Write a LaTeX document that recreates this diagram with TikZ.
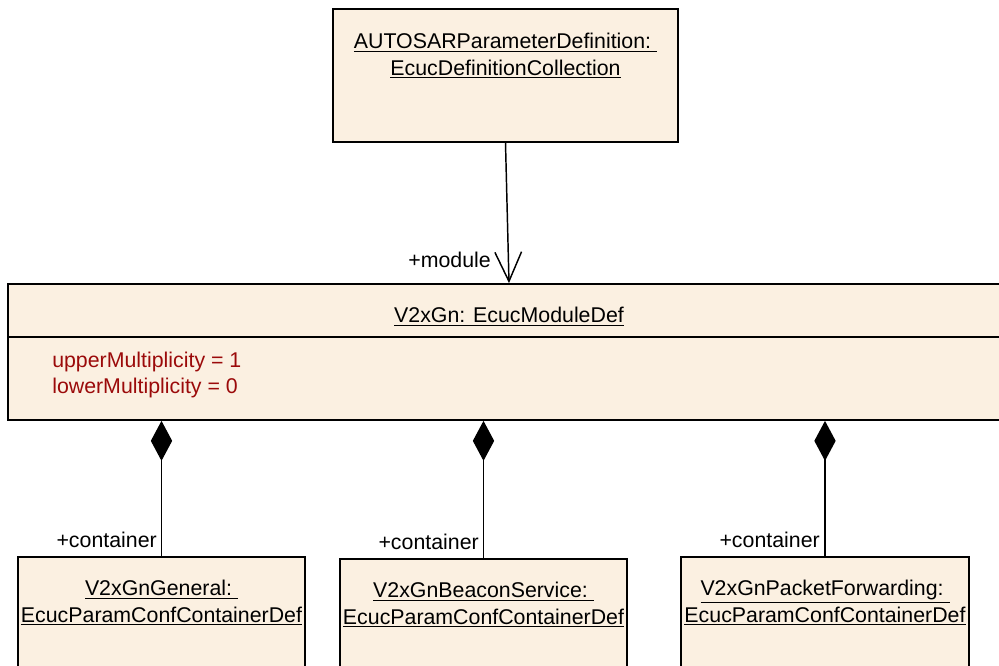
\documentclass[tikz,border=0pt]{standalone}
\usepackage{fontspec}
\setmainfont{Liberation Sans}
\usetikzlibrary{calc,arrows.meta}
\definecolor{objfill}{RGB}{251,240,225}
\definecolor{attrred}{RGB}{155,10,10}
\tikzset{>=Stealth}

\begin{document}
\begin{tikzpicture}[x=0.75pt,y=-0.75pt,
    font=\fontsize{16}{20}\selectfont,
    obj/.style={draw,line width=1.3pt,fill=objfill,inner sep=0pt},
    objname/.style={align=center,inner sep=0pt,anchor=north},
    role/.style={inner sep=0pt,anchor=base east},
    assoc/.style={line width=1.1pt}]
    \useasboundingbox (0,0) rectangle (999,666);
    \clip (0,0) rectangle (999,666);

    % object boxes
    \node[obj,minimum width=345*0.75pt,minimum height=133*0.75pt] (defcoll) at (505.5,75.5) {};
    \node[obj,minimum width=1002*0.75pt,minimum height=136*0.75pt] (ecucmod) at (509,352) {};
    \node[obj,minimum width=287*0.75pt,minimum height=130*0.75pt] (general) at (161.5,622) {};
    \node[obj,minimum width=287*0.75pt,minimum height=130*0.75pt] (beacon) at (483.5,624) {};
    \node[obj,minimum width=288*0.75pt,minimum height=130*0.75pt] (pktfwd) at (825,622) {};
    \draw[line width=1.3pt] ($(ecucmod.north west)+(0,54)$) -- ($(ecucmod.north east)+(0,54)$);

    % names
    \node[objname] (defcollname) at (505.5,33) {\underline{AUTOSARParameterDefinition:\ }\\\underline{EcucDefinitionCollection}};
    \node[objname] (ecucmodname) at (509,307) {\underline{V2xGn: EcucModuleDef}};
    \node[objname] (generalname) at (161.5,580) {\underline{V2xGnGeneral:\ }\\\underline{EcucParamConfContainerDef}};
    \node[objname] (beaconname) at (483.5,582) {\underline{V2xGnBeaconService:\ }\\\underline{EcucParamConfContainerDef}};
    \node[objname] (pktfwdname) at (825,580) {\underline{V2xGnPacketForwarding:\ }\\\underline{EcucParamConfContainerDef}};
    \node[inner sep=0pt,anchor=north west,align=left,text=attrred,font=\fontsize{16}{19.5}\selectfont] (ecucattr) at (52,352) {upperMultiplicity = 1\\lowerMultiplicity = 0};

    % associations
    \draw[assoc,-{Straight Barb[length=22pt,width=20pt]}] (defcoll.south) -- (ecucmod.north);
    \node[role] (modrole) at (491,268) {+module};
    \draw[assoc,{Diamond[length=30pt,width=16pt]}-] (general.north |- ecucmod.south) -- (general.north);
    \draw[assoc,{Diamond[length=30pt,width=16pt]}-] (beacon.north |- ecucmod.south) -- (beacon.north);
    \draw[assoc,{Diamond[length=30pt,width=16pt]}-] (pktfwd.north |- ecucmod.south) -- (pktfwd.north);
    \node[role] (genrole) at (157,547) {+container};
    \node[role] (beaconrole) at (479,549) {+container};
    \node[role] (pktrole) at (820,547) {+container};
\end{tikzpicture}
\end{document}
